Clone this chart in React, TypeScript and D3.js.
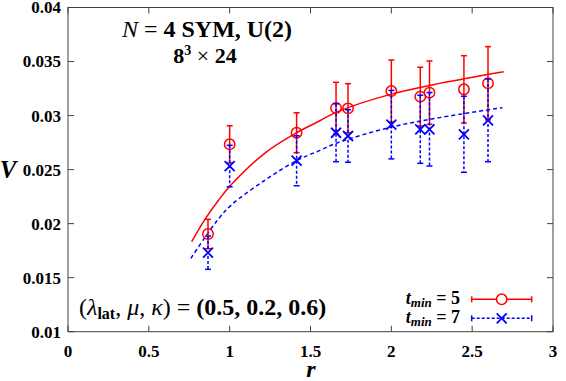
import React from 'react';
import { scaleLinear, line, curveCatmullRom } from 'd3';

// distances r and potentials V for the two fit windows
const rValues = [0.866, 1.0, 1.414, 1.658, 1.732, 2.0, 2.179, 2.236, 2.449, 2.598];
const vTmin5 = [0.01904, 0.02734, 0.02841, 0.0307, 0.03067, 0.03227, 0.03175, 0.03212, 0.03243, 0.03299];
const errTmin5 = [0.00136, 0.00172, 0.00185, 0.00238, 0.00228, 0.00287, 0.00272, 0.00293, 0.00311, 0.00339];
const vTmin7 = [0.01731, 0.02533, 0.02582, 0.02841, 0.02811, 0.02916, 0.02873, 0.02873, 0.02827, 0.02956];
const errTmin7 = [0.00154, 0.00192, 0.00231, 0.00268, 0.00243, 0.00317, 0.00315, 0.0034, 0.00352, 0.00383];

// fit curves
const fitR5 = [0.765, 0.847, 0.929, 1.012, 1.228, 1.414, 1.558, 1.661, 1.994, 2.299, 2.695];
const fitV5 = [0.01833, 0.0204, 0.02212, 0.02364, 0.02664, 0.02841, 0.02952, 0.03032, 0.03196, 0.03298, 0.03406];
const fitR7 = [0.76, 0.847, 0.929, 1.012, 1.228, 1.414, 1.558, 1.661, 2.0, 2.299, 2.687];
const fitV7 = [0.01679, 0.01872, 0.0204, 0.02175, 0.02412, 0.02583, 0.02678, 0.02745, 0.02893, 0.02981, 0.03073];

const xTicks = [0, 0.5, 1, 1.5, 2, 2.5, 3];
const xTickLabels = ['0', '0.5', '1', '1.5', '2', '2.5', '3'];
const yTicks = [0.01, 0.015, 0.02, 0.025, 0.03, 0.035, 0.04];
const yTickLabels = ['0.01', '0.015', '0.02', '0.025', '0.03', '0.035', '0.04'];

const W = 566;
const H = 381;
const margin = { top: 7.5, right: 13, bottom: 49.3, left: 68 };
const serif =
  '"Liberation Serif", "Times New Roman", Times, "Nimbus Roman", FreeSerif, "Noto Serif", "DejaVu Serif", serif';
const RED = '#ff0000';
const BLUE = '#0000ff';

const x = scaleLinear().domain([0, 3]).range([margin.left, W - margin.right]);
const y = scaleLinear().domain([0.01, 0.04]).range([H - margin.bottom, margin.top]);

const fitLine = line<[number, number]>()
  .x((d) => x(d[0]))
  .y((d) => y(d[1]))
  .curve(curveCatmullRom);

const Cross = ({ cx, cy, s }: { cx: number; cy: number; s: number }) => (
  <path d={`M${cx - s},${cy - s}L${cx + s},${cy + s}M${cx - s},${cy + s}L${cx + s},${cy - s}`} stroke={BLUE} strokeWidth={1.8} fill="none" />
);

const App = () => {
  const x0 = x(0);
  const x1 = x(3);
  const y0 = y(0.01);
  const y1 = y(0.04);
  const tick = 6;
  const cap = 3;

  const fit5 = fitLine(fitR5.map((r, i) => [r, fitV5[i]]));
  const fit7 = fitLine(fitR7.map((r, i) => [r, fitV7[i]]));

  return (
    <svg width={W} height={H} style={{ position: 'absolute', left: 0, top: 0, background: '#fff', fontFamily: serif }}>
      {/* fit curves */}
      <path d={fit5 || ''} fill="none" stroke={RED} strokeWidth={1.5} />
      <path d={fit7 || ''} fill="none" stroke={BLUE} strokeWidth={1.5} strokeDasharray="4,3" />

      {/* t_min = 5 */}
      {rValues.map((r, i) => {
        const cx = x(r);
        const top = y(vTmin5[i] + errTmin5[i]);
        const bot = y(vTmin5[i] - errTmin5[i]);
        return (
          <g key={`r${i}`} stroke={RED} strokeWidth={1.5} fill="none">
            <line x1={cx} x2={cx} y1={top} y2={bot} />
            <line x1={cx - cap} x2={cx + cap} y1={top} y2={top} />
            <line x1={cx - cap} x2={cx + cap} y1={bot} y2={bot} />
            <circle cx={cx} cy={y(vTmin5[i])} r={5.2} />
          </g>
        );
      })}

      {/* t_min = 7 */}
      {rValues.map((r, i) => {
        const cx = x(r);
        const top = y(vTmin7[i] + errTmin7[i]);
        const bot = y(vTmin7[i] - errTmin7[i]);
        return (
          <g key={`b${i}`}>
            <g stroke={BLUE} strokeWidth={1.5} fill="none">
              <line x1={cx} x2={cx} y1={top} y2={bot} strokeDasharray="3,2" />
              <line x1={cx - cap} x2={cx + cap} y1={top} y2={top} />
              <line x1={cx - cap} x2={cx + cap} y1={bot} y2={bot} />
            </g>
            <Cross cx={cx} cy={y(vTmin7[i])} s={5} />
          </g>
        );
      })}

      {/* frame and ticks */}
      <rect x={x0} y={y1} width={x1 - x0} height={y0 - y1} fill="none" stroke="#404040" strokeWidth={1} />
      {xTicks.map((t, i) => (
        <g key={`xt${i}`} stroke="#404040">
          <line x1={x(t)} x2={x(t)} y1={y0} y2={y0 - tick} />
          <line x1={x(t)} x2={x(t)} y1={y1} y2={y1 + tick} />
        </g>
      ))}
      {yTicks.map((t, i) => (
        <g key={`yt${i}`} stroke="#404040">
          <line x1={x0} x2={x0 + tick} y1={y(t)} y2={y(t)} />
          <line x1={x1} x2={x1 - tick} y1={y(t)} y2={y(t)} />
        </g>
      ))}

      {/* tick labels */}
      {xTicks.map((t, i) => (
        <text key={`xl${i}`} x={x(t)} y={357} textAnchor="middle" fontSize={17} fontWeight="bold">
          {xTickLabels[i]}
        </text>
      ))}
      {yTicks.map((t, i) => (
        <text key={`yl${i}`} x={61} y={y(t)} dy="0.35em" textAnchor="end" fontSize={17} fontWeight="bold">
          {yTickLabels[i]}
        </text>
      ))}

      {/* axis titles */}
      <text x={311} y={377} textAnchor="middle" fontSize={24} fontWeight="bold" fontStyle="italic">r</text>
      <text x={8} y={y(0.025)} dy="0.35em" textAnchor="middle" fontSize={25} fontWeight="bold" fontStyle="italic">V</text>

      {/* title */}
      <text x={207} y={37} textAnchor="middle" fontSize={24}>
        <tspan fontStyle="italic">N</tspan>
        <tspan> = </tspan>
        <tspan fontWeight="bold">4 SYM, U(2)</tspan>
      </text>
      <text x={205} y={63} textAnchor="middle" fontSize={22} fontWeight="bold">
        <tspan>8</tspan>
        <tspan fontSize={14} dy={-8}>3</tspan>
        <tspan dy={8} fontWeight="normal"> × </tspan>
        <tspan>24</tspan>
      </text>

      {/* parameters */}
      <text x={79} y={315} fontSize={24}>
        <tspan>(</tspan>
        <tspan fontStyle="italic">λ</tspan>
        <tspan fontSize={16} fontWeight="bold" dy={4}>lat</tspan>
        <tspan dy={-4}>, </tspan>
        <tspan fontStyle="italic">μ</tspan>
        <tspan>, </tspan>
        <tspan fontStyle="italic">κ</tspan>
        <tspan>) = </tspan>
        <tspan fontWeight="bold">(0.5, 0.2, 0.6)</tspan>
      </text>

      {/* legend */}
      <text x={460} y={304} textAnchor="end" fontSize={18} fontWeight="bold">
        <tspan fontStyle="italic">t</tspan>
        <tspan fontStyle="italic" fontSize={13} dy={3}>min</tspan>
        <tspan dy={-3}> = 5</tspan>
      </text>
      <g stroke={RED} strokeWidth={1.5} fill="none">
        <line x1={471.7} x2={531.7} y1={299.3} y2={299.3} />
        <line x1={471.7} x2={471.7} y1={296.3} y2={302.3} />
        <line x1={531.7} x2={531.7} y1={296.3} y2={302.3} />
        <circle cx={501.7} cy={299.3} r={5.2} fill="#fff" />
      </g>
      <text x={460} y={322.7} textAnchor="end" fontSize={18} fontWeight="bold">
        <tspan fontStyle="italic">t</tspan>
        <tspan fontStyle="italic" fontSize={13} dy={3}>min</tspan>
        <tspan dy={-3}> = 7</tspan>
      </text>
      <g stroke={BLUE} strokeWidth={1.5} fill="none">
        <line x1={471.7} x2={531.7} y1={318.3} y2={318.3} strokeDasharray="3,2" />
        <line x1={471.7} x2={471.7} y1={315.3} y2={321.3} />
        <line x1={531.7} x2={531.7} y1={315.3} y2={321.3} />
      </g>
      <Cross cx={501.7} cy={318.3} s={5} />
    </svg>
  );
};

export default App;
